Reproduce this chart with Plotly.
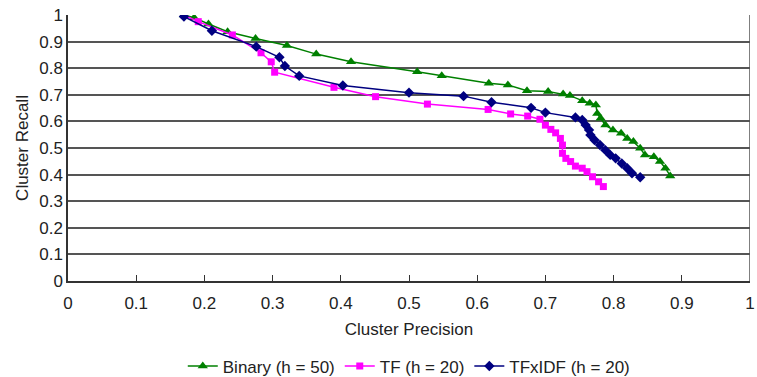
import plotly.graph_objects as go

binary_x = [0.170, 0.185, 0.206, 0.234, 0.275, 0.321, 0.364, 0.415, 0.512, 0.548, 0.617, 0.645, 0.673,
            0.704, 0.726, 0.736, 0.754, 0.765, 0.774, 0.776, 0.781, 0.788, 0.799, 0.811, 0.820, 0.829,
            0.839, 0.846, 0.859, 0.868, 0.876, 0.883]
binary_y = [1.000, 0.990, 0.966, 0.937, 0.912, 0.885, 0.853, 0.824, 0.787, 0.772, 0.743, 0.737, 0.715,
            0.712, 0.703, 0.697, 0.678, 0.668, 0.662, 0.630, 0.612, 0.586, 0.568, 0.555, 0.536, 0.524,
            0.499, 0.474, 0.467, 0.449, 0.424, 0.395]

tf_x = [0.170, 0.191, 0.241, 0.283, 0.298, 0.303, 0.390, 0.451, 0.527, 0.616, 0.649, 0.674, 0.692,
        0.700, 0.708, 0.715, 0.722, 0.725, 0.725, 0.730, 0.737, 0.744, 0.754, 0.761, 0.769, 0.778, 0.785]
tf_y = [1.000, 0.975, 0.925, 0.858, 0.824, 0.785, 0.728, 0.693, 0.665, 0.645, 0.628, 0.620, 0.608,
        0.586, 0.570, 0.557, 0.536, 0.511, 0.480, 0.461, 0.449, 0.432, 0.424, 0.411, 0.392, 0.373, 0.355]

tfidf_x = [0.170, 0.211, 0.276, 0.310, 0.318, 0.339, 0.403, 0.500, 0.580, 0.621, 0.679, 0.700, 0.744,
           0.754, 0.759, 0.764, 0.766, 0.772, 0.780, 0.788, 0.795, 0.803, 0.812, 0.820, 0.827, 0.839]
tfidf_y = [0.994, 0.941, 0.881, 0.841, 0.808, 0.771, 0.735, 0.708, 0.695, 0.672, 0.651, 0.633, 0.615,
           0.605, 0.586, 0.568, 0.549, 0.530, 0.511, 0.492, 0.474, 0.461, 0.442, 0.424, 0.405, 0.390]

x_ticks = [0, 0.1, 0.2, 0.3, 0.4, 0.5, 0.6, 0.7, 0.8, 0.9, 1]
x_labels = ["0", "0.1", "0.2", "0.3", "0.4", "0.5", "0.6", "0.7", "0.8", "0.9", "1"]
y_ticks = [0, 0.1, 0.2, 0.3, 0.4, 0.5, 0.6, 0.7, 0.8, 0.9, 1]
y_labels = ["0", "0.1", "0.2", "0.3", "0.4", "0.5", "0.6", "0.7", "0.8", "0.9", "1"]

FONT = "Liberation Sans, Arial, sans-serif"

fig = go.Figure()
fig.add_trace(go.Scatter(x=binary_x, y=binary_y, mode="lines+markers", name="Binary (h = 50)",
                         line=dict(color="#008000", width=1.5),
                         marker=dict(symbol="triangle-up", size=9, color="#008000")))
fig.add_trace(go.Scatter(x=tf_x, y=tf_y, mode="lines+markers", name="TF (h = 20)",
                         line=dict(color="#FF00FF", width=1.5),
                         marker=dict(symbol="square", size=7, color="#FF00FF")))
fig.add_trace(go.Scatter(x=tfidf_x, y=tfidf_y, mode="lines+markers", name="TFxIDF (h = 20)",
                         line=dict(color="#000080", width=1.5),
                         marker=dict(symbol="diamond", size=8, color="#000080")))

fig.update_layout(
    width=757, height=377,
    margin=dict(l=68, r=7, t=15, b=96, autoexpand=False),
    paper_bgcolor="white", plot_bgcolor="white",
    font=dict(family=FONT, size=17, color="#222"),
    showlegend=True,
    legend=dict(orientation="h", x=0.54, xanchor="center", xref="container",
                y=0.028, yanchor="middle", yref="container",
                font=dict(size=17), tracegroupgap=0),
    xaxis=dict(range=[0, 1], tickvals=x_ticks, ticktext=x_labels, showgrid=False,
               ticks="inside", ticklen=6, tickcolor="#333", tickwidth=1, automargin=False,
               ticklabeloverflow="allow", ticklabelstandoff=6,
               showline=True, linecolor="#333", linewidth=1.5, mirror=False, zeroline=False,
               title=dict(text="Cluster Precision", font=dict(size=17), standoff=11)),
    yaxis=dict(range=[0, 1], tickvals=y_ticks, ticktext=y_labels, showgrid=True, automargin=False,
               gridcolor="#555", gridwidth=1.5, ticks="", showline=True, linecolor="#333",
               linewidth=1.5, zeroline=False,
               title=dict(text="Cluster Recall", font=dict(size=17), standoff=6)),
)
fig.add_shape(type="line", xref="x", yref="y", x0=1, x1=1, y0=0, y1=1,
              line=dict(color="#555", width=1.5))

fig.write_html("out.html", config={"displayModeBar": False},
               post_script="document.body.style.margin='0';document.body.style.overflow='hidden';")
